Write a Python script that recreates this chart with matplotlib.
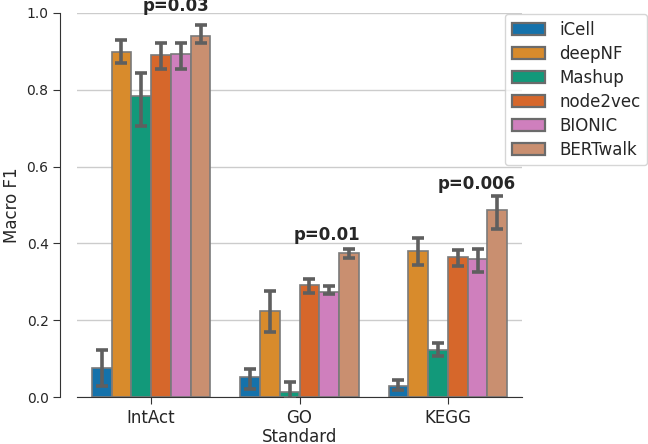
import matplotlib
matplotlib.use("Agg")
import matplotlib.pyplot as plt
import numpy as np
from matplotlib.patches import Patch

standards = ["IntAct", "GO", "KEGG"]
methods = ["iCell", "deepNF", "Mashup", "node2vec", "BIONIC", "BERTwalk"]
colors = ["#1572ab", "#d88b2c", "#12997a", "#d6672b", "#cf7fbd", "#c98f70"]

# mean, lower CI, upper CI per method (order: IntAct, GO, KEGG)
means = {
    "iCell":    [0.075, 0.053, 0.029],
    "deepNF":   [0.898, 0.225, 0.380],
    "Mashup":   [0.783, 0.012, 0.122],
    "node2vec": [0.890, 0.291, 0.365],
    "BIONIC":   [0.893, 0.274, 0.359],
    "BERTwalk": [0.941, 0.374, 0.487],
}
lows = {
    "iCell":    [0.029, 0.022, 0.018],
    "deepNF":   [0.869, 0.168, 0.344],
    "Mashup":   [0.706, -0.005, 0.108],
    "node2vec": [0.855, 0.270, 0.342],
    "BIONIC":   [0.855, 0.267, 0.325],
    "BERTwalk": [0.921, 0.361, 0.438],
}
highs = {
    "iCell":    [0.122, 0.072, 0.044],
    "deepNF":   [0.930, 0.277, 0.415],
    "Mashup":   [0.845, 0.038, 0.140],
    "node2vec": [0.923, 0.306, 0.383],
    "BIONIC":   [0.923, 0.289, 0.386],
    "BERTwalk": [0.968, 0.386, 0.523],
}
pvalues = ["p=0.03", "p=0.01", "p=0.006"]
pval_pos = [(0.17, 1.018), (1.185, 0.421), (2.195, 0.555)]

plt.rcParams["font.family"] = ["DejaVu Sans"]
FS = 12
TXT = "#262626"
fig = plt.figure(figsize=(6.48, 4.44), dpi=100)
ax = fig.add_axes([77/648, 1-397/444, (522-77)/648, (397-13)/444])

x = np.arange(len(standards))
n = len(methods)
w = 0.8 / n
for i, m in enumerate(methods):
    pos = x - 0.4 + w/2 + i*w
    mv = np.array(means[m]); lo = np.array(lows[m]); hi = np.array(highs[m])
    ax.bar(pos, mv, width=w, color=colors[i], edgecolor="#7a7a7a", linewidth=1.2, zorder=2)
    ax.errorbar(pos, mv, yerr=[mv-lo, hi-mv], fmt="none", ecolor="#5f5f5f",
                elinewidth=2.6, capsize=4.3, capthick=2.6, zorder=3)

ax.set_xlim(-0.5, 2.5)
ax.set_ylim(0, 1.0)
ax.set_xticks(x)
ax.set_xticklabels(standards, fontsize=FS)
ax.set_yticks([0.0, 0.2, 0.4, 0.6, 0.8, 1.0])
ax.set_yticklabels(["0.0", "0.2", "0.4", "0.6", "0.8", "1.0"], fontsize=FS)
ax.yaxis.grid(True, color="#cccccc", linewidth=1.0, zorder=0)
ax.set_axisbelow(True)
for s in ["top", "right"]:
    ax.spines[s].set_visible(False)
ax.spines["left"].set_position(("outward", 12))
ax.spines["left"].set_color("#333333")
ax.spines["bottom"].set_color("#333333")
ax.tick_params(axis="both", colors="#333333", labelcolor=TXT, length=5)
ax.set_xlabel("Standard", fontsize=FS, color=TXT, labelpad=1)
ax.set_ylabel("Macro F1", fontsize=FS, color=TXT, labelpad=4)

for txt, (px, py) in zip(pvalues, pval_pos):
    ax.text(px, py, txt, ha="center", va="center", fontsize=FS,
            fontweight="bold", color=TXT, clip_on=False)

handles = [Patch(facecolor=c, edgecolor="#6b6b6b", linewidth=1.6) for c in colors]
leg = fig.legend(handles, methods, loc="upper left", bbox_to_anchor=(505/648, 1-14/444),
                 borderaxespad=0, fontsize=FS, frameon=True, handlelength=2.0,
                 labelspacing=0.36, borderpad=0.4, handletextpad=0.85, labelcolor=TXT)
leg.get_frame().set_edgecolor("#cccccc")

fig.savefig("out.png", dpi=100)
